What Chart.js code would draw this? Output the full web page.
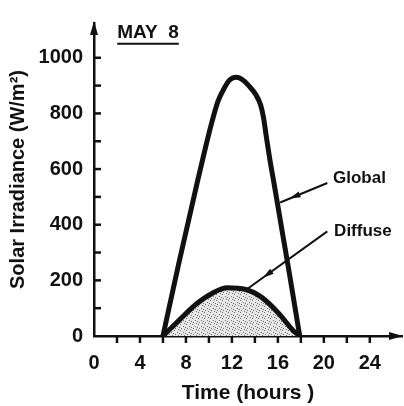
<!DOCTYPE html>
<html>
<head>
<meta charset="utf-8">
<script src="https://cdn.jsdelivr.net/npm/chart.js@4.4.1/dist/chart.umd.min.js"></script>
<style>
  html, body { margin: 0; padding: 0; background: #fff; }
</style>
</head>
<body>
<canvas id="chart" width="404" height="406"></canvas>
<script>
// values
var globalHours   = [6, 7.4, 9.0, 9.6, 10.2, 10.8, 11.35, 11.8, 12.4, 12.95, 13.5, 14.1, 14.5, 14.75, 15.0, 15.3, 15.7, 16.4, 17, 17.9];
var globalValues  = [0, 265, 555, 660, 760, 845, 892, 920, 930, 920, 898, 866, 830, 785, 715, 635, 540, 370, 225, 0];
var diffuseHours  = [6, 7.4, 8.9, 10.3, 11.6, 13.2, 14.65, 16.1, 17.3, 17.9];
var diffuseValues = [0, 56, 115, 154, 173, 167, 137, 80, 21, 0];
var xTickLabels = [0, 4, 8, 12, 16, 20, 24];
var yTickLabels = [0, 200, 400, 600, 800, 1000];

var FONT = '"Liberation Sans", Arial, sans-serif';
var INK = '#111';

function pairs(xs, ys) {
  return xs.map(function (x, i) { return { x: x, y: ys[i] }; });
}

// dotted grey fill like the printed stipple
function stipple() {
  var p = document.createElement('canvas');
  p.width = 6; p.height = 6;
  var g = p.getContext('2d');
  g.fillStyle = '#e6e6e6';
  g.fillRect(0, 0, 6, 6);
  g.fillStyle = '#707070';
  [[0, 0], [3, 2], [1, 4], [5, 3], [4, 5]].forEach(function (d) { g.fillRect(d[0], d[1], 1, 1); });
  return g.createPattern(p, 'repeat');
}

// minor ticks, axis arrows, labels with pointers, date heading
var decor = {
  id: 'decor',
  afterDraw: function (chart) {
    var ctx = chart.ctx, xs = chart.scales.x, ys = chart.scales.y, a = chart.chartArea;
    var x0 = xs.getPixelForValue(0), y0 = ys.getPixelForValue(0);
    function P(x, y) { return [xs.getPixelForValue(x), ys.getPixelForValue(y)]; }
    function seg(x1, y1, x2, y2) { ctx.beginPath(); ctx.moveTo(x1, y1); ctx.lineTo(x2, y2); ctx.stroke(); }

    ctx.save();
    ctx.strokeStyle = INK;
    ctx.fillStyle = INK;
    ctx.lineWidth = 2.5;
    for (var h = 2; h <= 24; h += 2) {
      var px = xs.getPixelForValue(h);
      seg(px, y0, px, y0 + 7);
    }
    for (var v = 100; v <= 1000; v += 100) {
      var py = ys.getPixelForValue(v);
      seg(x0, py, x0 + 7, py);
    }

    // arrow heads on the axes
    ctx.beginPath();
    ctx.moveTo(x0, a.top - 2); ctx.lineTo(x0 - 4, a.top + 12); ctx.lineTo(x0 + 4, a.top + 12);
    ctx.closePath(); ctx.fill();
    ctx.beginPath();
    ctx.moveTo(a.right + 1, y0); ctx.lineTo(a.right - 13, y0 - 4); ctx.lineTo(a.right - 13, y0 + 4);
    ctx.closePath(); ctx.fill();

    // curve labels
    var notes = [
      { text: 'Global',  at: [23.1, 568], from: [20.3, 550], to: [16.2, 480] },
      { text: 'Diffuse', at: [23.4, 376], from: [20.3, 376], to: [13.3, 168] }
    ];
    ctx.font = 'bold 17px ' + FONT;
    ctx.textAlign = 'center';
    ctx.textBaseline = 'middle';
    notes.forEach(function (n) {
      var t = P(n.at[0], n.at[1]), f = P(n.from[0], n.from[1]), e = P(n.to[0], n.to[1]);
      ctx.fillText(n.text, t[0], t[1]);
      ctx.lineWidth = 2;
      seg(f[0], f[1], e[0], e[1]);
      var dx = e[0] - f[0], dy = e[1] - f[1], len = Math.sqrt(dx * dx + dy * dy);
      var ux = dx / len, uy = dy / len;
      var tx = f[0] + dx * 0.8, ty = f[1] + dy * 0.8;
      ctx.beginPath();
      ctx.moveTo(tx, ty);
      ctx.lineTo(tx - ux * 11 - uy * 3, ty - uy * 11 + ux * 3);
      ctx.lineTo(tx - ux * 11 + uy * 3, ty - uy * 11 - ux * 3);
      ctx.closePath(); ctx.fill();
    });

    // heading
    var hd = P(4.7, 1090);
    ctx.font = 'bold 19px ' + FONT;
    ctx.fillText('MAY  8', hd[0], hd[1]);
    var w = ctx.measureText('MAY  8').width;
    ctx.lineWidth = 2;
    seg(hd[0] - w / 2, hd[1] + 11, hd[0] + w / 2, hd[1] + 11);
    ctx.restore();
  }
};

var ctx = document.getElementById('chart');
var chart = new Chart(ctx, {
  type: 'line',
  data: {
    datasets: [
      {
        label: 'Global',
        data: pairs(globalHours, globalValues),
        borderColor: INK,
        borderWidth: 5,
        borderCapStyle: 'round',
        borderJoinStyle: 'round',
        cubicInterpolationMode: 'monotone',
        pointRadius: 0,
        fill: false
      },
      {
        label: 'Diffuse',
        data: pairs(diffuseHours, diffuseValues),
        borderColor: INK,
        borderWidth: 5,
        borderCapStyle: 'round',
        borderJoinStyle: 'round',
        cubicInterpolationMode: 'monotone',
        pointRadius: 0,
        backgroundColor: stipple(),
        fill: 'origin'
      }
    ]
  },
  options: {
    responsive: false,
    animation: false,
    layout: { padding: { top: 13, right: 2, left: 0, bottom: 0 } },
    plugins: { legend: { display: false }, tooltip: { enabled: false } },
    scales: {
      x: {
        type: 'linear',
        min: 0,
        max: 26.8,
        afterBuildTicks: function (s) { s.ticks = xTickLabels.map(function (v) { return { value: v }; }); },
        afterFit: function (s) { s.height = 70; },
        grid: { display: false, drawTicks: false },
        border: { display: true, color: INK, width: 2.5 },
        ticks: {
          color: INK, padding: 15, maxRotation: 0, autoSkip: false,
          font: { family: FONT, size: 20, weight: 'bold' },
          callback: function (v) { return String(v); }
        },
        title: { display: true, text: 'Time (hours )', color: INK, padding: { top: 0, bottom: 0 }, font: { family: FONT, size: 21, weight: 'bold' } }
      },
      y: {
        min: 0,
        max: 1125,
        afterBuildTicks: function (s) { s.ticks = yTickLabels.map(function (v) { return { value: v }; }); },
        afterFit: function (s) { s.width = 94; },
        grid: { display: false, drawTicks: false },
        border: { display: true, color: INK, width: 2.5 },
        ticks: {
          color: INK, padding: 11, autoSkip: false,
          font: { family: FONT, size: 20, weight: 'bold' },
          callback: function (v) { return String(v); }
        },
        title: { display: true, text: 'Solar Irradiance (W/m²)', color: INK, padding: { top: 6, bottom: 0 }, font: { family: FONT, size: 20, weight: 'bold' } }
      }
    }
  },
  plugins: [decor]
});
</script>
</body>
</html>
